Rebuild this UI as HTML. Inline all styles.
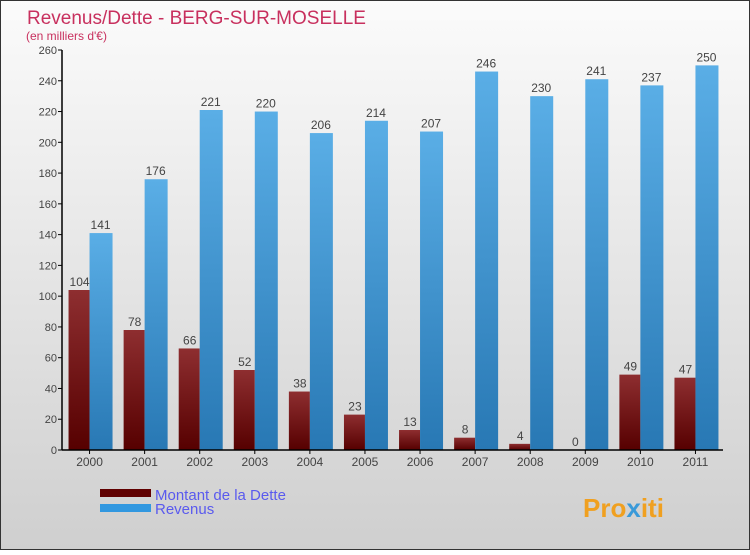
<!DOCTYPE html>
<html><head><meta charset="utf-8"><style>
html,body{margin:0;padding:0}
body{width:750px;height:550px;overflow:hidden;font-family:"Liberation Sans",sans-serif}
</style></head><body>
<svg id="chart" width="750" height="550" xmlns="http://www.w3.org/2000/svg" font-family="Liberation Sans, sans-serif">
<defs>
<linearGradient id="bg" x1="0" y1="0" x2="0" y2="1"><stop offset="0" stop-color="#fbfbfb"/><stop offset="1" stop-color="#cfcfcf"/></linearGradient>
<linearGradient id="gd" x1="0" y1="0" x2="0" y2="1"><stop offset="0" stop-color="#8e2e30"/><stop offset="1" stop-color="#560000"/></linearGradient>
<linearGradient id="gr" x1="0" y1="0" x2="0" y2="1"><stop offset="0" stop-color="#5aaee6"/><stop offset="1" stop-color="#2878b4"/></linearGradient>
</defs>
<rect x="0.5" y="0.5" width="749" height="549" fill="url(#bg)" stroke="#333"/>
<text x="27" y="24" font-size="19" fill="#c8305e">Revenus/Dette - BERG-SUR-MOSELLE</text>
<text x="26" y="40" font-size="12" fill="#c8305e">(en milliers d'€)</text>
<g id="grid"></g>
<g id="bars"></g>
<g id="axes"></g>
<g>
<rect x="100" y="489" width="51" height="8" fill="#600000"/>
<text x="155" y="500" font-size="15" fill="#5a5aee">Montant de la Dette</text>
<rect x="100" y="504" width="51" height="8" fill="#3298e0"/>
<text x="155" y="514" font-size="15" fill="#5a5aee">Revenus</text>
</g>
<text x="583" y="517" font-size="26" font-weight="bold" fill="#f0a020">Pro<tspan fill="#3a9ad9">x</tspan>iti</text>
</svg>
<script>
const categories=["2000","2001","2002","2003","2004","2005","2006","2007","2008","2009","2010","2011"];
const dette=[104,78,66,52,38,23,13,8,4,0,49,47];
const revenus=[141,176,221,220,206,214,207,246,230,241,237,250];
const yTicks=[0,20,40,60,80,100,120,140,160,180,200,220,240,260];
const NS="http://www.w3.org/2000/svg";
const x0=62,x1=723,yb=450,yt=50,ymax=260;
const step=(x1-x0)/categories.length;
const y=v=>yb-(v/ymax)*(yb-yt);
const cx=i=>x0+step*(i+0.5);
function mk(tag,attrs,parent,txt){const e=document.createElementNS(NS,tag);for(const k in attrs)e.setAttribute(k,attrs[k]);if(txt!==undefined)e.textContent=txt;parent.appendChild(e);return e;}
const axes=document.getElementById('axes'),bars=document.getElementById('bars');
yTicks.forEach(t=>{
  const l=mk('line',{x1:x0-4,x2:x0,y1:y(t),y2:y(t),stroke:'#000'},axes);
  
  
  const tx=mk('text',{x:x0-5,y:y(t)+4,'font-size':11,fill:'#444','text-anchor':'end'},axes,t);
  
  
});
const ya=mk('line',{x1:x0,x2:x0,y1:yt,y2:yb,stroke:'#000','stroke-width':1.5},axes);


const xa=mk('line',{x1:x0,x2:x1,y1:yb,y2:yb,stroke:'#000','stroke-width':1.5},axes);


categories.forEach((c,i)=>{
  const c0=cx(i);
  const bd=mk('rect',{x:c0-21,y:y(dette[i]),width:21,height:yb-y(dette[i]),fill:'url(#gd)'},bars);
  
  
  const br=mk('rect',{x:c0,y:y(revenus[i]),width:23,height:yb-y(revenus[i]),fill:'url(#gr)'},bars);
  
  
  const ld=mk('text',{x:c0-10,y:y(dette[i])-4,'font-size':12,fill:'#444','text-anchor':'middle'},bars,dette[i]);
  
  
  const lr=mk('text',{x:c0+11,y:y(revenus[i])-4,'font-size':12,fill:'#444','text-anchor':'middle'},bars,revenus[i]);
  
  
  const tk=mk('line',{x1:c0,x2:c0,y1:yb,y2:yb+4,stroke:'#000'},axes);
  
  
  const xl=mk('text',{x:c0,y:yb+16,'font-size':12,fill:'#444','text-anchor':'middle'},axes,c);
  
  
});
</script>
</body></html>
